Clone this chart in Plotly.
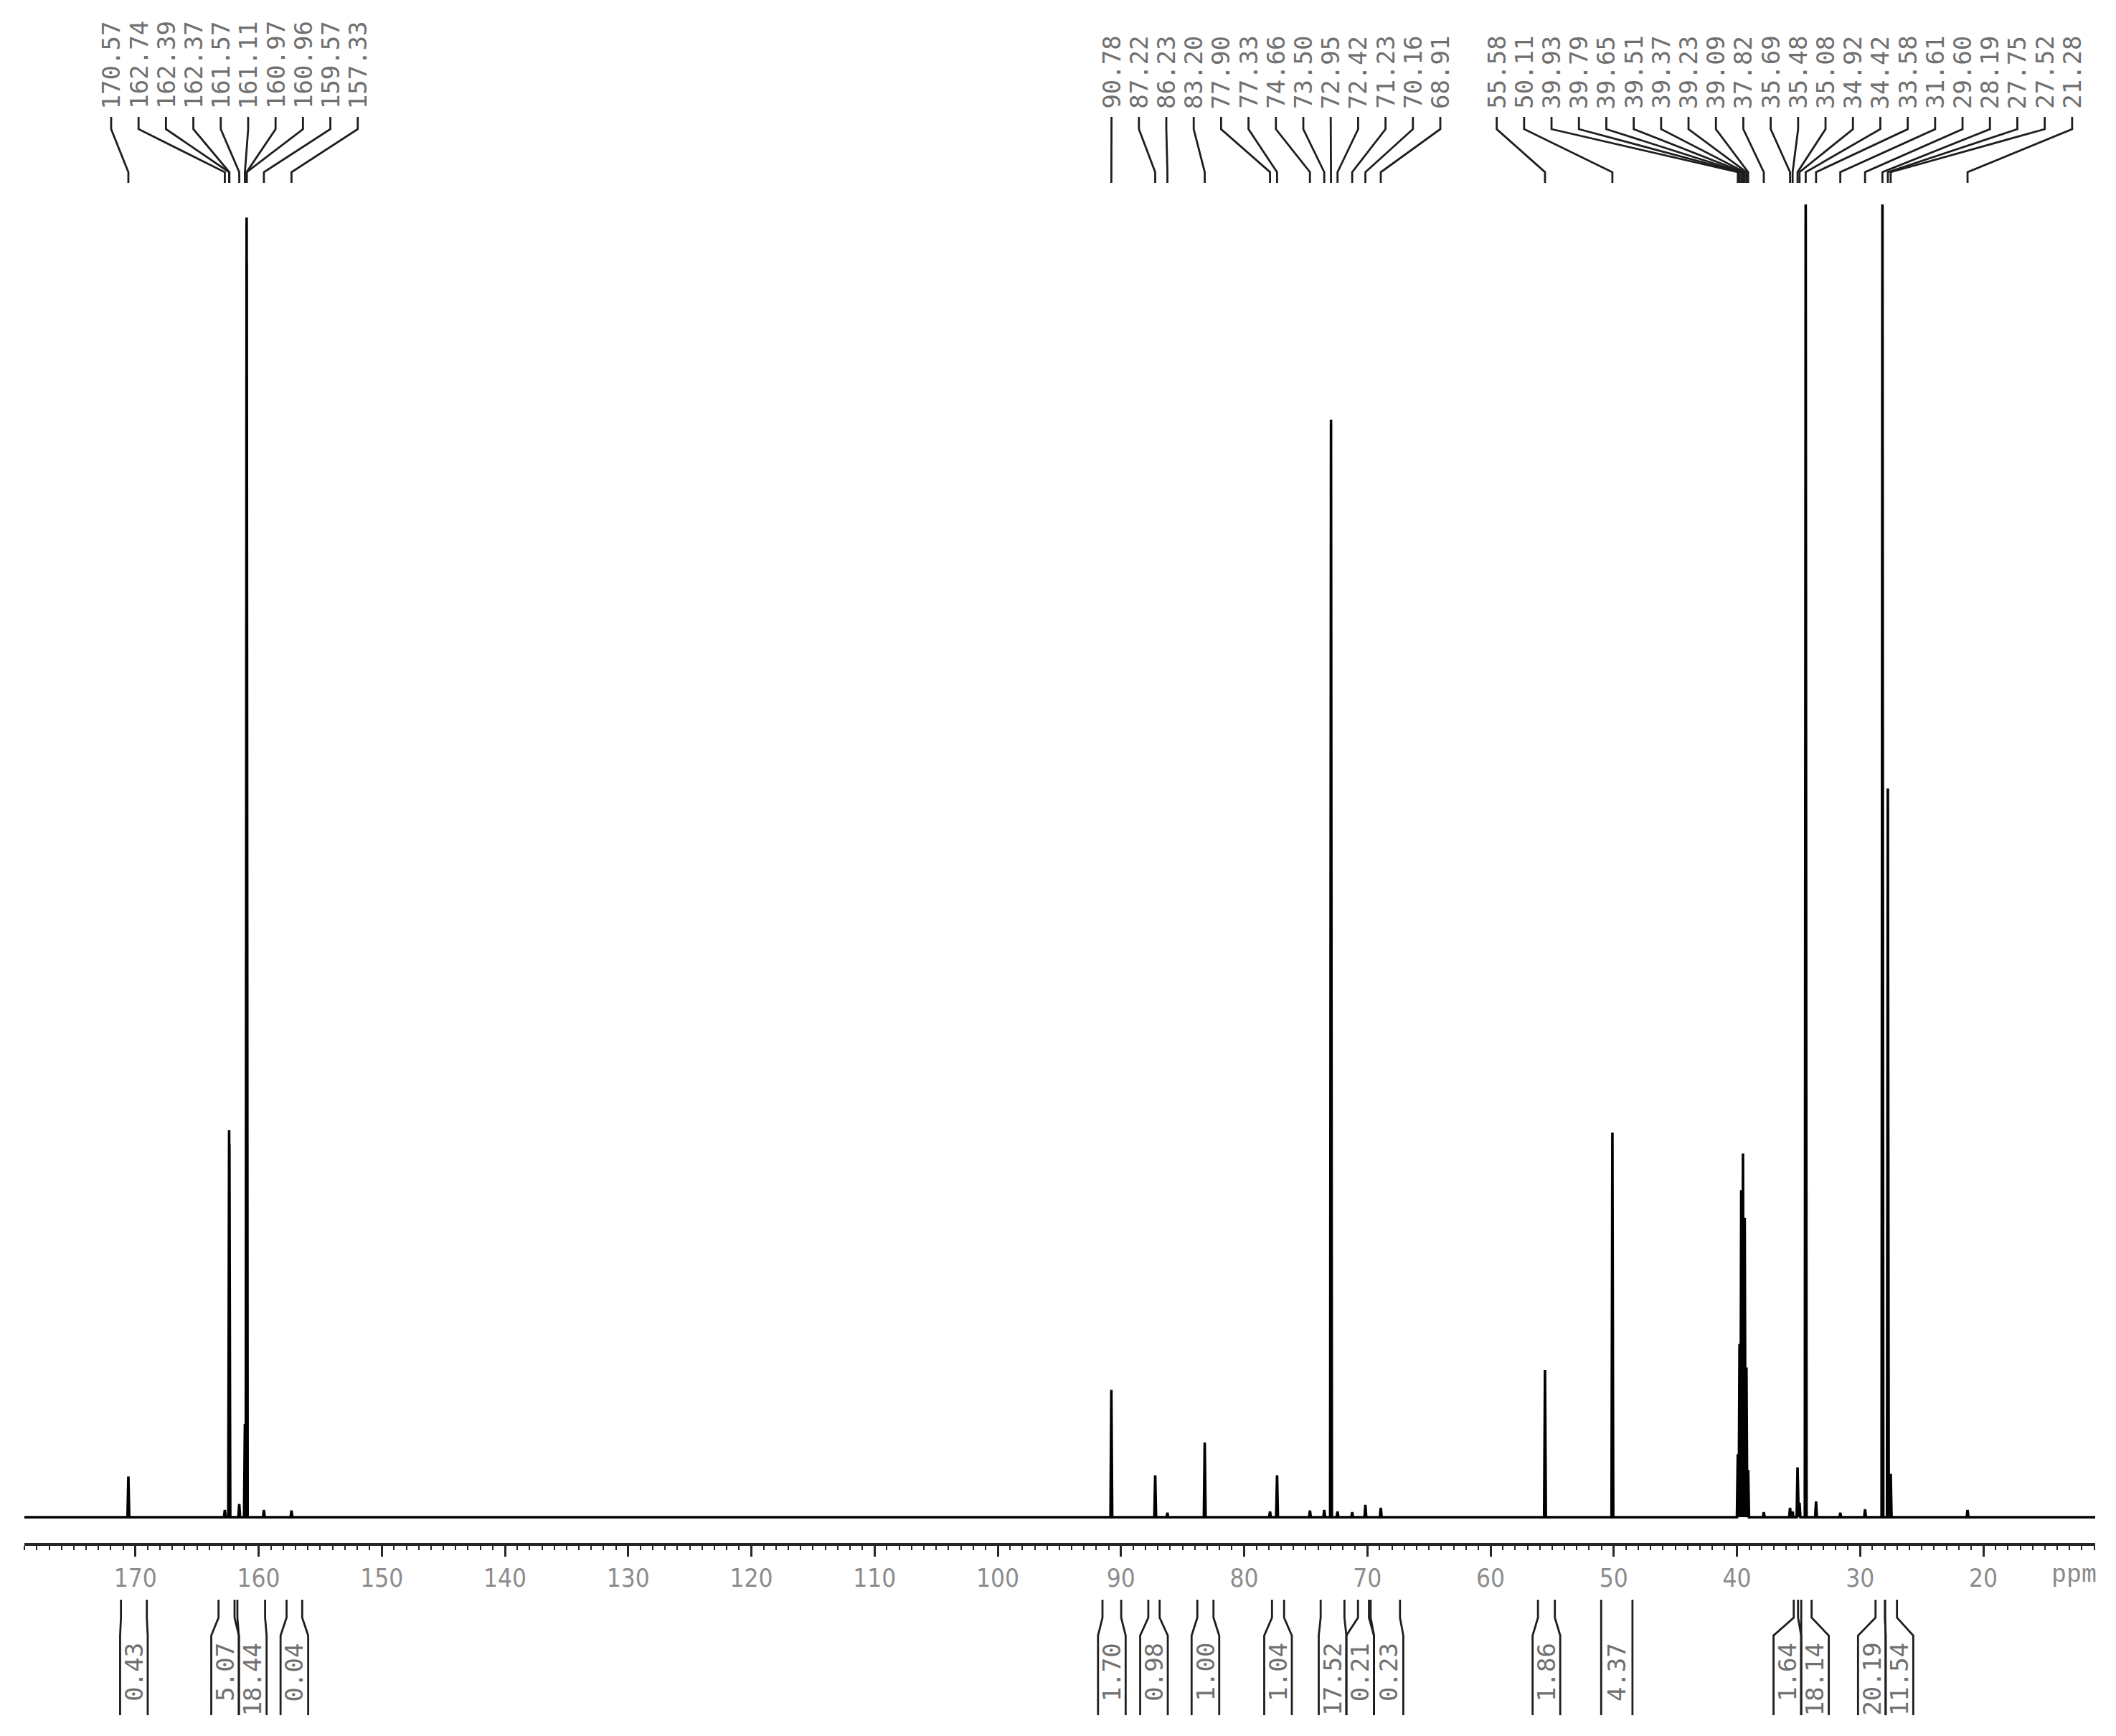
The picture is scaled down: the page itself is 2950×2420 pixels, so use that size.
import plotly.graph_objects as go

# ---------------- data ----------------
# peak group 1 (labels at left)
shifts_a = [170.57, 162.74, 162.39, 162.37, 161.57, 161.11, 160.97, 160.96, 159.57, 157.33]
heights_a = [3.1, 0.55, 29.5, 28.4, 1.0, 7.1, 99.0, 95.6, 0.55, 0.5]
# peak group 2 (labels in the middle)
shifts_b = [90.78, 87.22, 86.23, 83.20, 77.90, 77.33, 74.66, 73.50, 72.95, 72.42, 71.23, 70.16, 68.91]
heights_b = [9.7, 3.2, 0.33, 5.7, 0.44, 3.2, 0.5, 0.55, 83.6, 0.44, 0.38, 0.93, 0.71]
# peak group 3 (labels at right)
shifts_c = [55.58, 50.11, 39.93, 39.79, 39.65, 39.51, 39.37, 39.23, 39.09, 37.82,
            35.69, 35.48, 35.08, 34.92, 34.42, 33.58, 31.61, 29.60, 28.19, 27.75, 27.52, 21.28]
heights_c = [11.2, 29.3, 4.8, 13.2, 24.9, 27.7, 22.8, 11.4, 3.6, 0.38,
             0.71, 0.44, 3.8, 1.1, 100.0, 1.2, 0.33, 0.6, 100.0, 55.5, 3.3, 0.55]

# integrals: ppm range and value
integral_from = [171.17, 163.25, 161.72, 157.73, 91.50, 87.78, 83.80, 77.74, 73.79,
                 70.76, 69.73, 56.15, 51.02, 35.39, 34.78, 28.75, 27.98]
integral_to = [169.07, 161.95, 159.47, 156.46, 89.98, 86.86, 82.49, 76.76, 71.86,
               69.87, 67.35, 54.78, 48.48, 35.04, 33.94, 27.98, 27.01]
integral_values = ["0.43", "5.07", "18.44", "0.04", "1.70", "0.98", "1.00", "1.04", "17.52",
                   "0.21", "0.23", "1.86", "4.37", "1.64", "18.14", "20.19", "11.54"]

axis_unit = "ppm"

# ---------------- layout constants ----------------
FIG_W, FIG_H = 2950, 2420
PLOT_L_PX, PLOT_R_PX = 26, 2913
PPM_L, PPM_R = 179.01, 10.92
BASE_PX = 2107          # baseline of spectrum (px from top)
FULL_PX = 1830          # px for intensity 100
AXIS_PX = 2145          # x-axis line (px from top)

px_per_ppm = (PLOT_R_PX - PLOT_L_PX) / (PPM_L - PPM_R)


def ppm2px(p):
    return PLOT_L_PX + (PPM_L - p) * px_per_ppm


def px2ppm(x):
    return PPM_L - (x - PLOT_L_PX) / px_per_ppm


k = FULL_PX / 100.0
y_range = [-(FIG_H - BASE_PX) / k, BASE_PX / k]

LABEL_FONT = dict(family="DejaVu Sans Mono, Liberation Mono, monospace", size=34, color="#707070")
LINE_COL = "#1e1e1e"

# ---------------- spectrum polyline from peak list ----------------
peaks = sorted(zip(shifts_a + shifts_b + shifts_c, heights_a + heights_b + heights_c),
               key=lambda t: -t[0])
HALF = 0.07
sx, sy = [PPM_L], [0.0]
for p, h in peaks:
    sx += [p + HALF, p, p - HALF]
    sy += [0.0, h, 0.0]
sx.append(PPM_R)
sy.append(0.0)

annotations = []

# ---------------- peak labels with leader lines ----------------
LABEL_SP = 38.2
lead_x, lead_y = [], []
for shifts in (shifts_a, shifts_b, shifts_c):
    pxs = [ppm2px(p) for p in shifts]
    c = sum(pxs) / len(pxs)
    n = len(shifts)
    for i, p in enumerate(shifts):
        lx = px2ppm(c + (i - (n - 1) / 2) * LABEL_SP)
        lead_x += [lx, lx, p, p, None]
        lead_y += [155, 172, 232, 247, None]
        annotations.append(dict(x=lx, y=146, xref="x", yref="y2", text=f"{p:.2f}",
                                textangle=-90, xanchor="center", yanchor="bottom",
                                showarrow=False, font=LABEL_FONT))

# ---------------- integrals ----------------
W_BOX = 38.5
items = []
for f, t, v in zip(integral_from, integral_to, integral_values):
    l, r = ppm2px(f), ppm2px(t)
    w = max(r - l, W_BOX)
    items.append(dict(l=l, r=r, w=w, want=(l + r) / 2 - w / 2, v=v))


def cluster_left(cl):
    off, s = 0.0, 0.0
    for m in cl:
        s += m["want"] - off
        off += m["w"]
    return s / len(cl)


def cluster_width(cl):
    return sum(m["w"] for m in cl)


clusters = []
for it in items:
    clusters.append([it])
    while len(clusters) > 1:
        prev = clusters[-2]
        prev_right = cluster_left(prev) + cluster_width(prev)
        if cluster_left(clusters[-1]) < prev_right:
            merged = prev + clusters[-1]
            clusters = clusters[:-2] + [merged]
        else:
            break

int_x, int_y = [], []
for cl in clusters:
    x = cluster_left(cl)
    for m in cl:
        bl, br = x, x + m["w"]
        x = br
        for top, box in ((m["l"], bl), (m["r"], br)):
            int_x += [px2ppm(top), px2ppm(top), px2ppm(box), px2ppm(box), None]
            int_y += [2222, 2247, 2272, 2383, None]
        annotations.append(dict(x=px2ppm((bl + br) / 2), y=2280, xref="x", yref="y2",
                                text=m["v"], textangle=-90, xanchor="center", yanchor="top",
                                showarrow=False, font=LABEL_FONT))

# unit label
annotations.append(dict(x=(2883 - PLOT_L_PX) / (PLOT_R_PX - PLOT_L_PX), y=2188, xref="paper", yref="y2",
                        text=axis_unit, showarrow=False, xanchor="center", yanchor="middle",
                        font=dict(family="Liberation Mono, DejaVu Sans Mono, monospace", size=35,
                                  color="#8a8a8a")))

fig = go.Figure()
fig.add_trace(go.Scatter(x=sx, y=sy, mode="lines", line=dict(color="#000000", width=3.6),
                         hoverinfo="skip", showlegend=False))
fig.add_trace(go.Scatter(x=lead_x, y=lead_y, yaxis="y2", mode="lines",
                         line=dict(color=LINE_COL, width=2.8), hoverinfo="skip", showlegend=False))
fig.add_trace(go.Scatter(x=int_x, y=int_y, yaxis="y2", mode="lines",
                         line=dict(color=LINE_COL, width=2.8), hoverinfo="skip", showlegend=False))

fig.update_layout(
    width=FIG_W, height=FIG_H,
    margin=dict(l=PLOT_L_PX, r=FIG_W - PLOT_R_PX, t=0, b=0, pad=0),
    paper_bgcolor="white", plot_bgcolor="white", showlegend=False,
    xaxis=dict(range=[PPM_L, PPM_R], anchor="free", position=(FIG_H - AXIS_PX) / FIG_H,
               showline=True, linecolor="#262626", linewidth=4,
               ticks="outside", ticklen=15, tickwidth=3, tickcolor="#262626",
               tick0=0, dtick=10, showgrid=False, zeroline=False,
               tickfont=dict(family="DejaVu Sans Condensed, Liberation Sans Narrow, DejaVu Sans, sans-serif",
                             size=35, color="#8c8c8c"),
               minor=dict(ticks="outside", dtick=1, tick0=0, ticklen=6, tickwidth=2,
                          tickcolor="#262626", showgrid=False)),
    yaxis=dict(range=y_range, visible=False, fixedrange=True),
    yaxis2=dict(range=[FIG_H, 0], overlaying="y", visible=False),
    annotations=annotations,
)

fig.write_html("out.html")
